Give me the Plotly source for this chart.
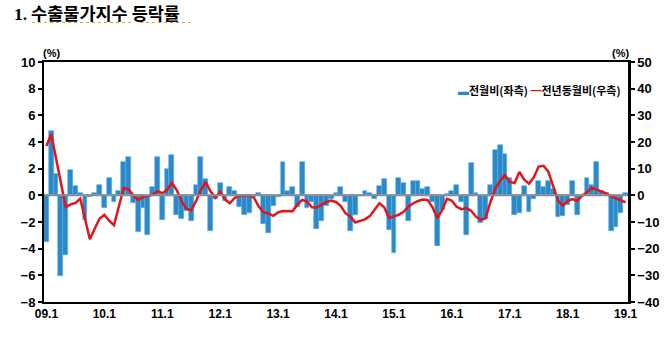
import plotly.graph_objects as go

# ---- data ----
tick_labels = ["09.1", "10.1", "11.1", "12.1", "13.1", "14.1", "15.1", "16.1", "17.1", "18.1", "19.1"]

# month-on-month change (%, left axis), 2009.1 .. 2019.1
mom = [
    -3.5, 4.8, 1.6, -6.05, -4.5, 1.9, 0.7, 0.2, -1.85, -0.1,
    0.2, 0.8, -0.95, 1.3, -0.5, 0.3, 2.5, 2.9, -0.6, -2.75,
    -0.95, -3.0, 0.6, 2.9, -1.85, 2.0, 3.0, -1.5, -1.8, -1.2,
    -1.9, 0.8, 2.9, 1.2, -2.7, -0.3, 0.9, -0.45, 0.6, 0.35,
    -0.85, -1.45, -1.3, -0.1, 0.15, -2.15, -2.8, -0.8, -0.1, 2.5,
    0.3, 0.6, -0.9, 2.5, -0.95, -0.5, -2.5, -1.9, -0.8, -0.3,
    0.2, 0.6, -0.5, -2.7, -1.5, -0.05, 0.3, 0.15, -0.3, 0.7,
    1.2, -2.6, -4.3, 1.3, 0.9, -1.9, 1.05, 1.1, 0.5, 0.6,
    -0.5, -3.8, -1.1, 0.1, 0.35, 0.75, -0.5, -2.95, 2.4, 0.15,
    -2.1, -1.8, 0.75, 3.4, 3.75, 3.1, 1.3, -1.45, -1.3, 0.7,
    -1.25, -0.3, 1.1, 0.6, 1.1, 0.5, -1.6, -1.55, -0.7, 1.05,
    -1.45, 0.05, 1.3, 0.75, 2.5, 0.35, 0.2, -2.7, -2.35, -1.3,
    0.2,
]

# year-on-year change (%, right axis)
yoy = [
    18.5, 23.0, 13.8, 4.6, -4.4, -3.4, -2.9, -1.2, -8.8, -16.5,
    -12.5, -8.8, -7.3, -9.5, -11.2, -4.0, 2.7, 2.3, 0.0, -1.7,
    -0.6, -0.3, 0.2, 1.6, 0.8, 2.0, 4.7, 2.0, -2.2, -5.0,
    -5.6, -2.2, 2.0, 5.0, 1.5, -0.9, 1.4, -1.5, -3.0, -1.0,
    -0.1, -0.2, 0.0, -0.9, -4.2, -6.4, -6.8, -7.7, -6.4, -5.9,
    -6.0, -6.0, -3.5, -1.7, -2.3, -4.5, -4.6, -3.7, -2.5, -2.0,
    -2.5, -4.0, -6.8, -8.0, -10.2, -9.6, -9.0, -7.8, -5.5, -3.0,
    -4.5, -8.6, -7.9, -7.3, -6.2, -4.3, -3.0, -2.1, -1.6, -1.8,
    -4.5, -8.6, -5.5, -1.3, -2.0, -4.3, -5.2, -4.8, -5.8, -8.0,
    -9.2, -8.6, -2.5, 2.5, 5.5, 7.6, 5.0, 4.6, 8.8, 5.9,
    4.4, 6.8, 10.8, 11.1, 8.9, 3.0, -2.0, -3.9, -2.1, -1.4,
    -2.1, -0.1, 1.1, 2.9, 2.1, 1.5, 0.75, -0.4, -1.1, -1.75,
    -2.6,
]

idx = list(range(len(mom)))
tick_vals = [i * 12 for i in range(len(tick_labels))]

BLUE = "#2E88C8"
RED = "#E3141B"

# ---- layout geometry (pixels) ----
W, H = 670, 351
PL, PR, PT, PB = 44, 628, 62, 302


def px_x(p):
    return (p - PL) / (PR - PL)


def px_y(p):
    return (PB - p) / (PB - PT)


fig = go.Figure()
fig.add_trace(go.Bar(
    x=idx, y=mom, yaxis="y",
    marker=dict(color=BLUE, line=dict(color="#4DB3E6", width=0.6)),
    showlegend=False, name="전월비(좌측)",
))
fig.add_trace(go.Scatter(
    x=idx, y=yoy, yaxis="y2", mode="lines",
    line=dict(color=RED, width=2.5),
    showlegend=False, name="전년동월비(우측)",
))

num_font = dict(family="Liberation Sans Narrow, Liberation Sans, Arial", size=13, color="black", weight="bold")

fig.update_layout(
    width=W, height=H,
    margin=dict(l=PL, r=W - PR, t=PT, b=H - PB, pad=0),
    paper_bgcolor="white", plot_bgcolor="white",
    bargap=0,
    xaxis=dict(
        range=[-0.5, len(mom) - 0.5],
        tickmode="array", tickvals=tick_vals, ticktext=tick_labels,
        showline=True, linecolor="black", linewidth=2, mirror=True,
        ticks="", showgrid=False, zeroline=False,
        tickfont=dict(num_font, size=12),
    ),
    yaxis=dict(
        range=[-8, 10], tick0=0, dtick=2,
        showline=True, linecolor="black", linewidth=2,
        ticks="outside", ticklen=4, tickwidth=1.5, tickcolor="black",
        showgrid=False, zeroline=False, tickfont=num_font,
    ),
    yaxis2=dict(
        range=[-40, 50], tick0=0, dtick=10,
        overlaying="y", side="right",
        showline=True, linecolor="black", linewidth=2.5,
        ticks="outside", ticklen=4, tickwidth=1.5, tickcolor="black",
        showgrid=False, zeroline=False, tickfont=num_font,
    ),
)

# zero line (category axis crossing)
fig.add_shape(type="line", xref="paper", yref="y", x0=0, x1=1, y0=0, y1=0,
              line=dict(color="#8C8C8C", width=2), layer="above")

# title
fig.add_annotation(
    xref="paper", yref="paper", x=px_x(12), y=px_y(12),
    xanchor="left", yanchor="middle", showarrow=False,
    text='<span style="font-family:Liberation Serif">1.</span> 수출물가지수 등락률',
    font=dict(family="Noto Sans CJK KR", size=17.5, color="black", weight="bold"),
)
# spell-check style dotted underlines under the title
for x0, x1 in [(32, 133), (140, 193)]:
    fig.add_shape(type="line", xref="paper", yref="paper",
                  x0=px_x(x0), x1=px_x(x1), y0=px_y(22.5), y1=px_y(22.5),
                  line=dict(color="#D4A25A", width=1, dash="dot"))

# unit labels
for xc in (51, 620):
    fig.add_annotation(
        xref="paper", yref="paper", x=px_x(xc), y=px_y(53),
        xanchor="center", yanchor="middle", showarrow=False,
        text="(%)", font=dict(family="Liberation Sans", size=11, color="black", weight="bold"),
    )

# legend
fig.add_annotation(
    xref="paper", yref="paper", x=px_x(623), y=px_y(90),
    xanchor="right", yanchor="middle", showarrow=False,
    text=(f'<span style="color:{BLUE}">▬</span>전월비(좌측) '
          f'<span style="color:{RED}">━</span>전년동월비(우측)'),
    font=dict(family="Noto Sans CJK KR", size=11, color="black", weight="bold"),
)

fig.write_html("out.html")
